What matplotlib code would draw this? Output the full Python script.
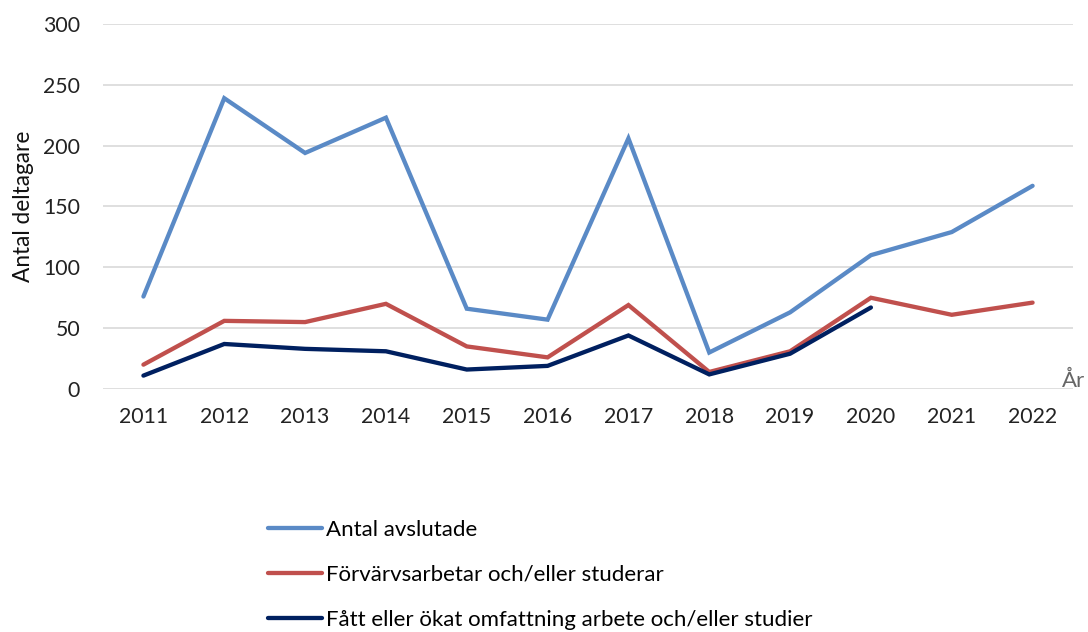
import matplotlib
matplotlib.use("Agg")
import matplotlib.pyplot as plt
import numpy as np

years = ["2011", "2012", "2013", "2014", "2015", "2016", "2017", "2018", "2019", "2020", "2021", "2022"]
avslutade = [76, 239, 194, 223, 66, 57, 206, 30, 63, 110, 129, 167]
forvarv = [20, 56, 55, 70, 35, 26, 69, 14, 31, 75, 61, 71]
fatt = [11, 37, 33, 31, 16, 19, 44, 12, 29, 67, np.nan, np.nan]
labels = ["Antal avslutade", "Förvärvsarbetar och/eller studerar",
          "Fått eller ökat omfattning arbete och/eller studier"]
colors = ["#5A8AC6", "#C0504D", "#002060"]

plt.rcParams['font.family'] = ['Lato', 'DejaVu Sans']

fig = plt.figure(figsize=(10.88, 6.32), dpi=100)
ax = fig.add_axes([103/1088, 1 - 389/632, (1073 - 103)/1088, (389 - 24)/632])

x = np.arange(len(years))
lines = []
for series, c, lab in zip([avslutade, forvarv, fatt], colors, labels):
    ln, = ax.plot(x, series, color=c, lw=3.1, label=lab, solid_capstyle='round', solid_joinstyle='miter')
    lines.append(ln)

ax.set_xlim(-0.5, len(years) - 0.5)
ax.set_ylim(0, 300)
ax.set_yticks(range(0, 301, 50))
ax.set_xticks(x)
ax.set_xticklabels(years)
ax.grid(axis='y', color='#D9D9D9', lw=1.2)
ax.set_axisbelow(True)
for s in ax.spines.values():
    s.set_visible(False)
ax.tick_params(axis='both', length=0, labelsize=15.3, colors='#222222')
ax.tick_params(axis='x', pad=13)
ax.tick_params(axis='y', pad=16.5)

ax.set_ylabel("Antal deltagare", fontsize=16.3, color='#111111')
ax.yaxis.set_label_coords(-0.071, 0.5)
fig.text(1062/1088, 1 - 381/632, "År", fontsize=16, color='#666666', ha='left', va='center')

leg = fig.legend(handles=lines, labels=labels, loc='upper left',
                 bbox_to_anchor=(248/1088, 1 - 500/632), frameon=False,
                 fontsize=16, handlelength=2.45, handletextpad=0.15, labelspacing=1.12)

fig.savefig("out.png", dpi=100)
